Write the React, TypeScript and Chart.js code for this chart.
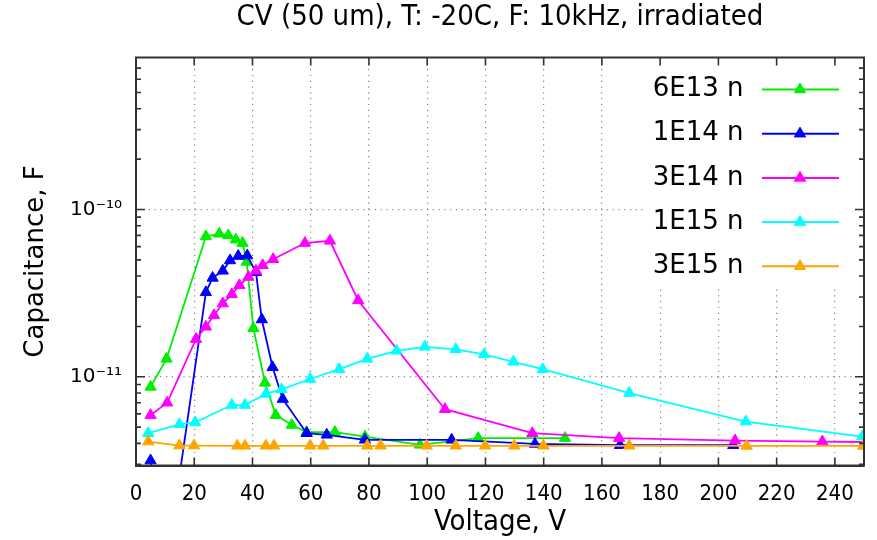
import React, { useEffect, useRef } from 'react';
import { Chart, registerables } from 'chart.js';

Chart.register(...registerables);

const TITLE = 'CV (50 um), T: -20C, F: 10kHz, irradiated';
const X_TITLE = 'Voltage, V';
const Y_TITLE = 'Capacitance, F';
const FONT = '"DejaVu Sans", sans-serif';
const FONT_COND = '"DejaVu Sans Condensed", "DejaVu Sans", sans-serif';

const SERIES_NAMES = ['6E13 n', '1E14 n', '3E14 n', '1E15 n', '3E15 n'];
const SERIES_COLORS = ['#00ee00', '#0000ff', '#ff00ff', '#00ffff', '#ffa500'];

const X_MIN = 0;
const X_MAX = 250;
const X_STEP = 20;
const Y_MIN = 2.95e-12;
const Y_MAX = 8.1e-10;

const v6e13 = [5, 10.5, 24, 28.6, 31.7, 34.3, 36.6, 38, 40.3, 44.3, 48, 53.5, 58.6, 68.3, 78.6, 97.5, 117.5, 147.3];
const c6e13 = [8.7e-12, 1.28e-11, 6.9e-11, 7.16e-11, 7.0e-11, 6.6e-11, 6.3e-11, 4.86e-11, 1.95e-11, 9.2e-12, 5.9e-12, 5.15e-12, 4.67e-12, 4.67e-12, 4.39e-12, 3.92e-12, 4.3e-12, 4.3e-12];

const v1e14 = [5, 10, 24, 26.3, 29.8, 32.3, 35.1, 38.2, 41.2, 43.2, 46.9, 50.4, 58.6, 65.5, 78.6, 108.4, 137, 166.2, 205.1];
const c1e14 = [3.16e-12, 6.5e-13, 3.2e-11, 3.9e-11, 4.3e-11, 4.96e-11, 5.27e-11, 5.3e-11, 4.22e-11, 2.2e-11, 1.14e-11, 7.36e-12, 4.6e-12, 4.5e-12, 4.2e-12, 4.2e-12, 3.97e-12, 3.9e-12, 3.9e-12];

const v3e14 = [5, 10.7, 20.6, 24, 26.8, 29.8, 32.9, 35.5, 38.6, 41.2, 43.5, 47.1, 58, 66.6, 76.3, 106.1, 136.1, 165.9, 205.7, 235.7, 265];
const c3e14 = [5.9e-12, 7.0e-12, 1.68e-11, 1.99e-11, 2.33e-11, 2.74e-11, 3.11e-11, 3.52e-11, 3.95e-11, 4.3e-11, 4.64e-11, 5.04e-11, 6.3e-11, 6.5e-11, 2.86e-11, 6.4e-12, 4.6e-12, 4.3e-12, 4.16e-12, 4.1e-12, 4.05e-12];

const v1e15 = [4.2, 14.9, 20.3, 32.9, 37.4, 44.6, 50, 59.8, 69.8, 79.4, 89.5, 99.2, 109.8, 119.5, 129.6, 139.7, 169.4, 209.4, 249.4];
const c1e15 = [4.6e-12, 5.2e-12, 5.34e-12, 6.78e-12, 6.78e-12, 7.9e-12, 8.4e-12, 9.7e-12, 1.11e-11, 1.28e-11, 1.43e-11, 1.51e-11, 1.46e-11, 1.36e-11, 1.23e-11, 1.11e-11, 8.0e-12, 5.4e-12, 4.39e-12];

const v3e15 = [4.2, 14.9, 19.9, 34.8, 37.4, 44.6, 47.4, 59.8, 64.3, 79.4, 84, 99.8, 109.8, 119.9, 129.9, 139.9, 169.4, 209.7, 249.8];
const c3e15 = [4.1e-12, 3.88e-12, 3.88e-12, 3.87e-12, 3.87e-12, 3.87e-12, 3.87e-12, 3.87e-12, 3.87e-12, 3.87e-12, 3.87e-12, 3.87e-12, 3.87e-12, 3.87e-12, 3.87e-12, 3.87e-12, 3.87e-12, 3.86e-12, 3.86e-12];

const VOLTAGES = [v6e13, v1e14, v3e14, v1e15, v3e15];
const CAPS = [c6e13, c1e14, c3e14, c1e15, c3e15];

const SUP: Record<string, string> = { '-': '⁻', '0': '⁰', '1': '¹', '2': '²', '3': '³', '4': '⁴', '5': '⁵', '6': '⁶', '7': '⁷', '8': '⁸', '9': '⁹' };
const isDecade = (v: number) => {
  const l = Math.log10(v);
  return Math.abs(l - Math.round(l)) < 1e-9;
};
const decadeLabel = (v: number) => '10' + String(Math.round(Math.log10(v))).split('').map((c) => SUP[c] || c).join('');

function drawTriangle(ctx: CanvasRenderingContext2D, x: number, y: number, r: number, color: string) {
  ctx.beginPath();
  for (let k = 0; k < 3; k++) {
    const a = (k * 2 * Math.PI) / 3;
    const px = x + Math.sin(a) * r;
    const py = y - Math.cos(a) * r;
    if (k === 0) ctx.moveTo(px, py);
    else ctx.lineTo(px, py);
  }
  ctx.closePath();
  ctx.fillStyle = color;
  ctx.fill();
  ctx.strokeStyle = color;
  ctx.lineWidth = 1;
  ctx.stroke();
}

const framePlugin = {
  id: 'gnuframe',
  beforeDatasetsDraw(chart: any) {
    const { ctx, chartArea: a } = chart;
    ctx.save();
    const boxLeft = a.right - 219;
    const boxBottom = a.top + 230;
    ctx.fillStyle = '#ffffff';
    ctx.fillRect(boxLeft, a.top + 1, a.right - 1 - boxLeft, boxBottom - a.top - 1);
    ctx.font = `26px ${FONT}`;
    ctx.textAlign = 'right';
    ctx.textBaseline = 'middle';
    SERIES_NAMES.forEach((name, i) => {
      const y = a.top + 32 + i * 44.2;
      ctx.fillStyle = '#000';
      ctx.fillText(name, a.right - 120.5, y);
      ctx.strokeStyle = SERIES_COLORS[i];
      ctx.lineWidth = 2;
      ctx.beginPath();
      ctx.moveTo(a.right - 102, y);
      ctx.lineTo(a.right - 25, y);
      ctx.stroke();
      drawTriangle(ctx, a.right - 64, y, 6.5, SERIES_COLORS[i]);
    });
    ctx.restore();
  },
  afterDatasetsDraw(chart: any) {
    const { ctx, chartArea: a, scales } = chart;
    const xs = scales.x;
    const ys = scales.y;
    ctx.save();
    ctx.strokeStyle = '#333';
    ctx.lineWidth = 1.6;
    ctx.beginPath();
    for (const t of xs.ticks) {
      const px = xs.getPixelForValue(t.value);
      if (px <= a.left + 1 || px >= a.right - 1) continue;
      ctx.moveTo(px, a.bottom);
      ctx.lineTo(px, a.bottom - 8);
      ctx.moveTo(px, a.top);
      ctx.lineTo(px, a.top + 8);
    }
    for (const t of ys.ticks) {
      const py = ys.getPixelForValue(t.value);
      if (py <= a.top + 1 || py >= a.bottom - 1) continue;
      const len = isDecade(t.value) ? 9 : 5;
      ctx.moveTo(a.left, py);
      ctx.lineTo(a.left + len, py);
      ctx.moveTo(a.right, py);
      ctx.lineTo(a.right - len, py);
    }
    ctx.stroke();
    ctx.lineWidth = 2;
    ctx.strokeRect(a.left, a.top, a.right - a.left, a.bottom - a.top);
    ctx.restore();
  },
};

export default function App() {
  const ref = useRef<HTMLCanvasElement>(null);
  useEffect(() => {
    const canvas = ref.current;
    if (!canvas) return;
    const datasets = SERIES_NAMES.map((name, i) => ({
      label: name,
      data: VOLTAGES[i].map((v, j) => ({ x: v, y: CAPS[i][j] })),
      borderColor: SERIES_COLORS[i],
      backgroundColor: SERIES_COLORS[i],
      pointBackgroundColor: SERIES_COLORS[i],
      pointBorderColor: SERIES_COLORS[i],
      pointStyle: 'triangle',
      pointRadius: 6.5,
      pointBorderWidth: 1,
      borderWidth: 1.8,
      tension: 0,
      order: SERIES_NAMES.length - i,
    }));
    const chart = new Chart(canvas, {
      type: 'line',
      data: { datasets },
      options: {
        responsive: false,
        animation: false,
        devicePixelRatio: 1,
        layout: { padding: { left: 0, right: 13, top: 0, bottom: 0 } },
        plugins: {
          legend: { display: false },
          tooltip: { enabled: false },
          title: {
            display: true,
            text: TITLE,
            fullSize: false,
            color: '#000',
            font: { family: FONT_COND, size: 29, weight: 'normal', lineHeight: 1.1 },
            padding: { top: 2, bottom: 23.6 },
          },
        },
        scales: {
          x: {
            type: 'linear',
            position: 'bottom',
            min: X_MIN,
            max: X_MAX,
            ticks: {
              stepSize: X_STEP,
              includeBounds: false,
              autoSkip: false,
              maxRotation: 0,
              padding: 15.5,
              color: '#000',
              font: { family: FONT_COND, size: 22 },
            },
            grid: {
              drawTicks: false,
              lineWidth: 1.2,
              color: (c: any) => (c.tick && c.tick.value > X_MIN && c.tick.value < X_MAX ? '#888' : 'rgba(0,0,0,0)'),
            },
            border: { display: true, color: '#333', width: 2, dash: [1.2, 4.6] },
            title: {
              display: true,
              text: X_TITLE,
              color: '#000',
              font: { family: FONT_COND, size: 29 },
              padding: { top: 0, bottom: 0 },
            },
            afterFit: (s: any) => {
              s.height = 74.5;
              s.paddingLeft = 0;
              s.paddingRight = 0;
              s.paddingTop = 0;
              s.paddingBottom = 0;
            },
          },
          y: {
            type: 'logarithmic',
            position: 'left',
            min: Y_MIN,
            max: Y_MAX,
            afterBuildTicks: (s: any) => {
              const out: any[] = [];
              for (let e = -13; e <= -8; e++) {
                for (let m = 1; m <= 9; m++) {
                  const v = m * Math.pow(10, e);
                  if (v >= s.min && v <= s.max) out.push({ value: v, major: m === 1 });
                }
              }
              s.ticks = out;
            },
            ticks: {
              autoSkip: false,
              padding: 14,
              color: '#000',
              font: { family: FONT, size: 20 },
              callback: (v: any) => (isDecade(Number(v)) ? decadeLabel(Number(v)) : ''),
            },
            grid: {
              drawTicks: false,
              lineWidth: 1.2,
              color: (c: any) => (c.tick && isDecade(c.tick.value) ? '#888' : 'rgba(0,0,0,0)'),
            },
            border: { display: true, color: '#333', width: 2, dash: [1.2, 4.6] },
            title: {
              display: true,
              text: Y_TITLE,
              color: '#000',
              font: { family: FONT, size: 26 },
              padding: { top: 20.5, bottom: 0 },
            },
            afterFit: (s: any) => {
              s.width = 136;
              s.paddingLeft = 0;
              s.paddingRight = 0;
              s.paddingTop = 0;
              s.paddingBottom = 0;
            },
          },
        },
      } as any,
      plugins: [framePlugin],
    });
    return () => chart.destroy();
  }, []);
  return (
    <div style={{ position: 'fixed', left: 0, top: 0, width: 877, height: 540, background: '#fff' }}>
      <canvas ref={ref} width={877} height={540} style={{ width: 877, height: 540, display: 'block' }} />
    </div>
  );
}
